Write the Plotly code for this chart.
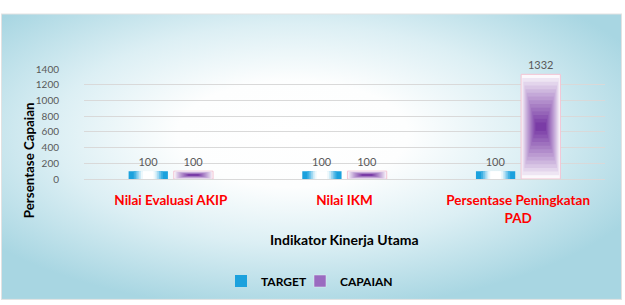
import base64
import plotly.graph_objects as go

# ---------------- data ----------------
categories = ["Nilai Evaluasi AKIP", "Nilai IKM", "Persentase Peningkatan<br>PAD"]
target = [100, 100, 100]
capaian = [100, 100, 1332]
y_tick_values = [0, 200, 400, 600, 800, 1000, 1200, 1400]
series_names = ["TARGET", "CAPAIAN"]

# ---------------- layout constants ----------------
W, H = 625, 305
ML, MR, MT, MB = 84, 20, 69, 125
PW, PH = W - ML - MR, H - MT - MB
BARGAP, GROUPGAP = 0.48, 0.13
BW = (1 - BARGAP) / 2 * (1 - GROUPGAP)  # bar width in category units

FONT = "Lato"
GRAY = "#595959"


def hex2rgb(h):
    h = h.lstrip("#")
    return tuple(int(h[i:i + 2], 16) for i in (0, 2, 4))


def mix(c1, c2, t):
    a, b = hex2rgb(c1), hex2rgb(c2)
    return "rgb(%d,%d,%d)" % tuple(round(a[i] + (b[i] - a[i]) * t) for i in range(3))


fig = go.Figure()

# ---- TARGET: horizontal gradient (cyan edges, white centre) via overlaid bars
t_widths = [1.0, 0.74, 0.64, 0.55, 0.46, 0.37, 0.27]
t_colors = ["#1BA1DD", "#40B1E3", "#6EC4EB", "#9ED7F1", "#CBEAF7", "#EDF8FC", "#FFFFFF"]
for i, (wf, col) in enumerate(zip(t_widths, t_colors)):
    fig.add_trace(go.Bar(
        x=categories, y=target, name=series_names[0],
        offsetgroup="t", width=BW * wf,
        marker=dict(color=col, line=dict(width=0)),
        showlegend=(i == 0), legend="legend",
        text=[str(v) for v in target] if i == 0 else None,
        textposition="outside" if i == 0 else "none",
        textfont=dict(family=FONT, size=11, color=GRAY),
        cliponaxis=False, hoverinfo="skip" if i else None,
    ))

# ---- CAPAIAN: radial-ish purple gradient via nested bars
N = 14
outer_c, inner_c = "#FBF8FC", "#7A3CA6"
for i in range(N):
    t = i / (N - 1)
    k = 0.46 * t
    col = mix(outer_c, inner_c, t ** 0.9)
    fig.add_trace(go.Bar(
        x=categories,
        y=[v * (1 - 2 * k) for v in capaian],
        base=[v * k for v in capaian],
        name=series_names[1],
        offsetgroup="c", width=BW * (1 - 1.6 * k),
        marker=dict(color=col,
                    line=dict(width=1 if i == 0 else 0, color="#F3C3D3")),
        showlegend=False,
        text=[str(v) for v in capaian] if i == 0 else None,
        textposition="outside" if i == 0 else "none",
        textfont=dict(family=FONT, size=11, color=GRAY),
        cliponaxis=False, hoverinfo="skip" if i else None,
    ))

# legend entry for CAPAIAN (medium purple swatch)
fig.add_trace(go.Bar(
    x=[categories[0]], y=[None], name=series_names[1], offsetgroup="c",
    marker=dict(color="#9A6BC0"), showlegend=True, legend="legend2",
))

# ---------------- background card (radial gradient) ----------------
svg = f'''<svg xmlns="http://www.w3.org/2000/svg" width="{W}" height="{H}" viewBox="0 0 {W} {H}">
<defs><radialGradient id="g" cx="0.47" cy="0.42" r="0.62">
<stop offset="0" stop-color="#FFFFFF"/>
<stop offset="0.3" stop-color="#FDFEFE"/>
<stop offset="0.62" stop-color="#DCEFF4"/>
<stop offset="1" stop-color="#A8D6E2"/>
</radialGradient></defs>
<rect x="0" y="0" width="{W}" height="{H}" fill="#FFFFFF"/>
<rect x="1.5" y="13.5" width="620" height="288" fill="url(#g)" stroke="#E2E2E2" stroke-width="1"/>
</svg>'''
src = "data:image/svg+xml;base64," + base64.b64encode(svg.encode()).decode()

fig.add_layout_image(dict(
    source=src, xref="paper", yref="paper",
    x=-ML / PW, y=1 + MT / PH, sizex=W / PW, sizey=H / PH,
    xanchor="left", yanchor="top", sizing="stretch", layer="below",
))

# ---------------- axes ----------------
fig.update_xaxes(
    type="category", showgrid=False, showline=False, zeroline=False,
    ticks="outside", ticklen=9, tickcolor="rgba(0,0,0,0)",
    tickfont=dict(family=FONT, size=13.5, color="#FF0000", weight="bold"),
)
fig.update_yaxes(
    range=[0, 1400], tickvals=y_tick_values,
    showgrid=True, gridcolor="#D9D9D9", gridwidth=1,
    zeroline=True, zerolinecolor="#D9D9D9", zerolinewidth=1, showline=False,
    ticks="outside", ticklen=22, tickcolor="rgba(0,0,0,0)",
    tickfont=dict(family=FONT, size=10, color=GRAY),
)

fig.add_annotation(
    text="<b>Persentase Capaian</b>", textangle=-90,
    xref="paper", yref="paper", x=(29 - ML) / PW, y=(MT + PH - 161) / PH,
    xanchor="center", yanchor="middle", showarrow=False,
    font=dict(family=FONT, size=13.3, color="#000000"),
)
fig.add_annotation(
    text="<b>Indikator Kinerja Utama</b>",
    xref="paper", yref="paper", x=(344 - ML) / PW, y=(MT + PH - 241) / PH,
    xanchor="center", yanchor="middle", showarrow=False,
    font=dict(family=FONT, size=14, color="#000000"),
)

legend_common = dict(
    orientation="h", xref="paper", yref="paper",
    xanchor="left", yanchor="middle",
    font=dict(family=FONT, size=12, color="#000000", weight="bold"),
    bgcolor="rgba(0,0,0,0)", itemwidth=30,
)
fig.update_layout(
    width=W, height=H, autosize=False,
    margin=dict(l=ML, r=MR, t=MT, b=MB),
    paper_bgcolor="#FFFFFF", plot_bgcolor="rgba(0,0,0,0)",
    barmode="group", bargap=BARGAP, bargroupgap=GROUPGAP,
    showlegend=True,
    legend=dict(legend_common, x=(221 - ML) / PW, y=(MT + PH - 281) / PH),
    legend2=dict(legend_common, x=(300 - ML) / PW, y=(MT + PH - 281) / PH),
)

fig.write_html("out.html")
